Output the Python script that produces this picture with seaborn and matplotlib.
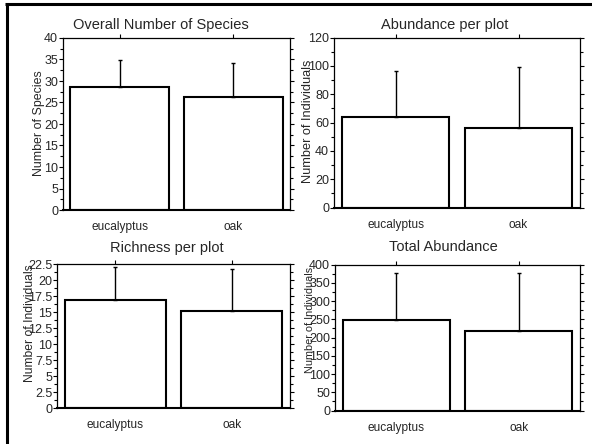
import matplotlib
matplotlib.use("Agg")
import matplotlib.pyplot as plt
import seaborn as sns
import numpy as np
from matplotlib.ticker import MultipleLocator, FuncFormatter
from matplotlib.lines import Line2D

# ---- data ----
categories = ["eucalyptus", "oak"]

species_mean = [28.6, 26.2]
species_upper = [34.9, 34.1]

abund_plot_mean = [63.6, 56.2]
abund_plot_upper = [96.7, 99.3]

rich_plot_mean = [16.9, 15.1]
rich_plot_upper = [22.1, 21.7]

total_abund_mean = [247, 219]
total_abund_upper = [377, 377]

titles = ["Overall Number of Species", "Abundance per plot",
          "Richness per plot", "Total Abundance"]
ylabels = ["Number of Species", "Number of Individuals",
           "Number of Individuals", "Number of Individuals"]

sns.set_style("ticks")
plt.rcParams['font.family'] = ['Liberation Sans', 'DejaVu Sans']

W, H = 592, 444
fig = plt.figure(figsize=(W / 100, H / 100), dpi=100)

def fx(px):
    return px / W

def fy(py):
    return 1 - py / H

def add_axes(l, t, r, b):
    return fig.add_axes([fx(l), fy(b), fx(r) - fx(l), (b - t) / H])

panels = [
    dict(box=(63, 38, 290, 210), mean=species_mean, upper=species_upper,
         ymax=40, major=5, minor=2.5, title_xy=(161, 25), ylab_xy=(39, 123), ylab_fs=8.9),
    dict(box=(334, 37.5, 580, 207.5), mean=abund_plot_mean, upper=abund_plot_upper,
         ymax=120, major=20, minor=10, title_xy=(445, 25), ylab_xy=(308, 121), ylab_fs=9.2),
    dict(box=(57, 264, 290, 408), mean=rich_plot_mean, upper=rich_plot_upper,
         ymax=22.5, major=2.5, minor=1.25, title_xy=(167, 248), ylab_xy=(30, 323), ylab_fs=8.7),
    dict(box=(335, 264.5, 580, 410.5), mean=total_abund_mean, upper=total_abund_upper,
         ymax=400, major=50, minor=25, title_xy=(443, 247), ylab_xy=(310, 320), ylab_fs=7.8),
]

fmt = FuncFormatter(lambda v, p: f"{v:g}")

for i, p in enumerate(panels):
    ax = add_axes(*p["box"])
    sns.barplot(x=categories, y=p["mean"], color="white", saturation=1,
                edgecolor="black", linewidth=1.5, width=0.87, errorbar=None, ax=ax)
    err = np.array(p["upper"]) - np.array(p["mean"])
    ax.errorbar([0, 1], p["mean"], yerr=[np.zeros(2), err], fmt="none",
                ecolor="black", elinewidth=1.0, capsize=1.5, capthick=1.0)
    ax.set_xlim(-0.5, 1.5)
    ax.set_ylim(0, p["ymax"])
    ax.yaxis.set_major_locator(MultipleLocator(p["major"]))
    ax.yaxis.set_minor_locator(MultipleLocator(p["minor"]))
    ax.yaxis.set_major_formatter(fmt)
    ax.tick_params(axis="y", which="both", direction="out", left=True, right=True,
                   labelright=False, labelsize=9, pad=0.5, width=0.8, color="black")
    ax.tick_params(axis="y", which="major", length=3)
    ax.tick_params(axis="y", which="minor", length=2)
    ax.tick_params(axis="x", which="both", direction="out", top=True, bottom=False,
                   labelbottom=True, length=3, labelsize=8.6, pad=5, width=0.8, color="black")
    ax.set_xlabel("")
    ax.set_ylabel("")
    for s in ax.spines.values():
        s.set_visible(True)
        s.set_linewidth(0.9)
        s.set_color("black")
    ax.spines["bottom"].set_linewidth(1.5)
    tx, ty = p["title_xy"]
    fig.text(fx(tx), fy(ty), titles[i], ha="center", va="center", fontsize=10.5)
    lx, ly = p["ylab_xy"]
    fig.text(fx(lx), fy(ly), ylabels[i], ha="center", va="center", rotation=90,
             fontsize=p["ylab_fs"])

# figure frame (left and top thick lines)
fig.add_artist(Line2D([fx(6.5), fx(6.5)], [0, fy(4)], transform=fig.transFigure,
                      color="black", linewidth=2.2, solid_capstyle="butt"))
fig.add_artist(Line2D([fx(5.4), 1], [fy(4), fy(4)], transform=fig.transFigure,
                      color="black", linewidth=2.2, solid_capstyle="butt"))

fig.savefig("out.png", dpi=100)
